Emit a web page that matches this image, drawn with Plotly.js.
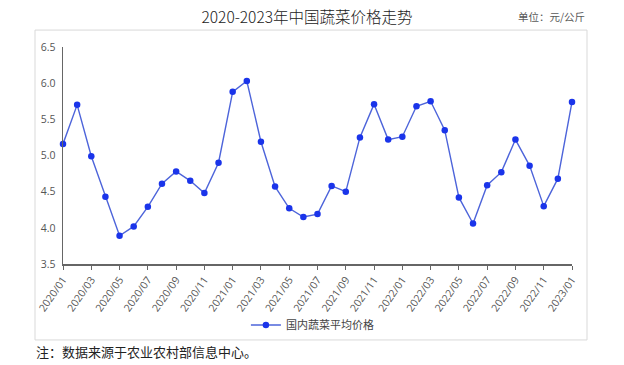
<!DOCTYPE html>
<html>
<head>
<meta charset="utf-8">
<script src="https://cdn.plot.ly/plotly-3.0.1.min.js"></script>
<style>html,body{margin:0;padding:0;background:#fff;}#chart{width:624px;height:365px;}</style>
</head>
<body>
<div id="chart"></div>
<script>
const months = [
  "2020/01","2020/02","2020/03","2020/04","2020/05","2020/06","2020/07","2020/08","2020/09","2020/10","2020/11","2020/12",
  "2021/01","2021/02","2021/03","2021/04","2021/05","2021/06","2021/07","2021/08","2021/09","2021/10","2021/11","2021/12",
  "2022/01","2022/02","2022/03","2022/04","2022/05","2022/06","2022/07","2022/08","2022/09","2022/10","2022/11","2022/12",
  "2023/01"
];
const prices = [
  5.16, 5.70, 4.99, 4.43, 3.89, 4.02, 4.29, 4.61, 4.78, 4.65, 4.48, 4.90,
  5.88, 6.03, 5.19, 4.57, 4.27, 4.15, 4.19, 4.58, 4.50, 5.25, 5.71, 5.22,
  5.26, 5.68, 5.75, 5.35, 4.42, 4.06, 4.59, 4.77, 5.22, 4.86, 4.30, 4.68,
  5.74
];
const tickLabels = months.filter((m, i) => i % 2 === 0);
const seriesName = "国内蔬菜平均价格";
const titleText = "2020-2023年中国蔬菜价格走势";
const unitText = "单位：元/公斤";
const noteText = "注：数据来源于农业农村部信息中心。";

const trace = {
  x: months, y: prices, type: "scatter", mode: "lines+markers", name: seriesName,
  line: {color: "#4d64da", width: 1.4},
  marker: {color: "#1a34ea", size: 6.5},
  cliponaxis: false
};
const cjk = "'Noto Sans CJK SC', 'Noto Sans', sans-serif";
const layout = {
  width: 624, height: 365,
  margin: {l: 63, r: 52, t: 47, b: 101},
  paper_bgcolor: "#fff", plot_bgcolor: "#fff",
  font: {family: cjk, color: "#595959", size: 11},
  title: {text: titleText, x: 0.492, xanchor: "center", y: 0.953, yanchor: "middle",
          font: {family: cjk, size: 15.5, color: "#222", weight: 300}},
  showlegend: true,
  legend: {orientation: "h", x: 0.49, xanchor: "center", y: -0.281, yanchor: "middle",
           itemwidth: 30, font: {family: cjk, size: 11, color: "#444"}, bgcolor: "rgba(0,0,0,0)"},
  xaxis: {
    type: "category", range: [0, 36],
    tickmode: "array", tickvals: tickLabels, ticktext: tickLabels,
    tickangle: -55, ticks: "outside", ticklen: 4, tickcolor: "#666",
    showline: true, linecolor: "#666", linewidth: 1.5, showgrid: false, zeroline: false,
    tickfont: {family: "'Open Sans', 'Noto Sans', sans-serif", size: 10.5, color: "#555"}
  },
  yaxis: {
    range: [3.5, 6.5], dtick: 0.5, tickformat: ".1f",
    showline: true, linecolor: "#666", linewidth: 1.5, showgrid: false, zeroline: false,
    ticks: "", ticklabelstandoff: 4,
    tickfont: {family: "'Open Sans', 'Noto Sans', sans-serif", size: 10.5, color: "#555"}
  },
  shapes: [{type: "rect", xref: "paper", yref: "paper",
            x0: -0.055, x1: 1.0295, y0: -0.350, y1: 1.078,
            line: {color: "#d9d9d9", width: 1}, fillcolor: "rgba(0,0,0,0)", layer: "below"}],
  annotations: [
    {text: unitText, xref: "paper", yref: "paper", x: 1.03, xanchor: "right",
     y: 1.14, yanchor: "middle", showarrow: false, font: {family: cjk, size: 10.5, color: "#595959"}},
    {text: noteText, xref: "paper", yref: "paper", x: -0.057, xanchor: "left",
     y: -0.405, yanchor: "middle", showarrow: false, font: {family: cjk, size: 13, color: "#222"}}
  ]
};
Plotly.newPlot("chart", [trace], layout, {displayModeBar: false, staticPlot: true});
</script>
</body>
</html>
